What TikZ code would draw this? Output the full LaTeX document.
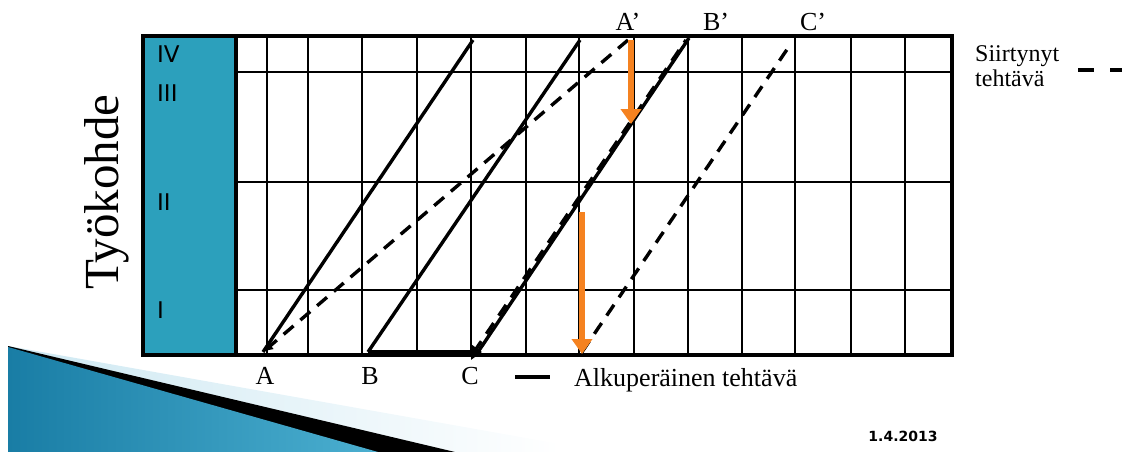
\documentclass[tikz,border=0pt]{standalone}
\usepackage{fontspec}
\setmainfont{Liberation Serif}
\newfontfamily\numfont{DejaVu Sans}
\usetikzlibrary{arrows.meta}

\definecolor{panelblue}{RGB}{44,160,188}
\definecolor{shiftorange}{RGB}{245,130,32}
\definecolor{swooshdark}{RGB}{25,125,165}
\definecolor{swooshlight}{RGB}{75,175,208}
\definecolor{swooshpale}{RGB}{205,232,242}

\tikzset{
  task/.style={line width=3.4pt},
  moved/.style={line width=3.4pt, dash pattern=on 13pt off 9pt},
  shiftarrow/.style={shiftorange, line width=6pt, -{Triangle[length=15pt,width=20pt]}},
  lbl/.style={font=\fontsize{26}{28}\selectfont, inner sep=0pt, anchor=base},
  zone/.style={font=\numfont\fontsize{23}{25}\selectfont, inner sep=0pt, anchor=base west},
}

\begin{document}
\begin{tikzpicture}[x=1pt,y=-1pt]
  \useasboundingbox (0,0) rectangle (1122,452);

  % slide decoration
  \shade[left color=swooshpale, right color=white] (8,346) -- (560,444) -- (560,452) -- (8,452) -- cycle;
  \fill[black] (8,346) -- (455,452) -- (8,452) -- cycle;
  \shade[left color=swooshdark, right color=swooshlight] (8,347) -- (378,452) -- (8,452) -- cycle;

  % frame and grid
  \fill[panelblue] (143,36) rectangle (236,355);
  \foreach \y in {72,182,290}
    \draw[line width=1.2pt] (236,\y) -- (952,\y);
  \foreach \x in {267,308,362,417,471,526,579,634,688,742,795,851,905}
    \draw[line width=1.2pt] (\x,36) -- (\x,355);
  \draw[line width=3.2pt] (236,36) -- (236,355);
  \draw[line width=3.2pt] (143,36) rectangle (952,355);

  % task points
  \coordinate (A) at (263,352);
  \coordinate (B) at (368,352);
  \coordinate (C) at (478,352);
  \coordinate (Aend) at (473,40);
  \coordinate (Bend) at (580,40);
  \coordinate (Cend) at (689,38);
  \coordinate (A2) at (628,40);
  \coordinate (B2) at (686,40);
  \coordinate (C1) at (474,352);
  \coordinate (D) at (582,352);
  \coordinate (C2) at (788,48);

  % original tasks
  \draw[task] (A) -- (Aend);
  \draw[task] (B) -- (Bend);
  \draw[task] (C) -- (Cend);
  \draw[line width=5pt, -{Triangle[length=11pt,width=15pt]}] (B) -- ([xshift=4pt]C);

  % moved tasks
  \draw[moved, -{Latex[length=10pt,width=10pt]}] (A2) -- (A);
  \draw[moved] (C1) -- (B2);
  \draw[moved] (D) -- (C2);

  % shifts
  \coordinate (s1) at (631,40);
  \coordinate (s1end) at (631,124);
  \coordinate (s2) at (582,212);
  \coordinate (s2end) at (582,354);
  \draw[shiftarrow] (s1) -- (s1end);
  \draw[shiftarrow] (s2) -- (s2end);

  % labels
  \node[lbl] (lA) at (265,384) {A};
  \node[lbl] (lB) at (370,384) {B};
  \node[lbl] (lC) at (470,384) {C};
  \node[lbl] (lA2) at (628,31) {A’};
  \node[lbl] (lB2) at (716,31) {B’};
  \node[lbl] (lC2) at (813,31) {C’};

  \node[zone] (z4) at (157,63) {IV};
  \node[zone] (z3) at (157,101) {III};
  \node[zone] (z2) at (157,210) {II};
  \node[zone] (z1) at (157,318) {I};

  \node[font=\fontsize{49}{51}\selectfont, rotate=90, anchor=base, inner sep=0pt] (axis) at (118,192) {Työkohde};

  % legend
  \coordinate (l1a) at (515,377);
  \coordinate (l1b) at (550,377);
  \draw[line width=4.5pt] (l1a) -- (l1b);
  \node[lbl, anchor=base west] (orig) at (574,386) {Alkuperäinen tehtävä};
  \coordinate (l2a) at (1078,70);
  \coordinate (l2b) at (1122,70);
  \draw[line width=4pt, dash pattern=on 16pt off 16pt] (l2a) -- (l2b);
  \node[font=\fontsize{24}{25}\selectfont, align=left, anchor=north west, inner sep=0pt] (moved) at (975,45) {Siirtynyt\\tehtävä};

  \node[font=\numfont\bfseries\fontsize{14}{16}\selectfont, anchor=base, inner sep=0pt] (date) at (903,441) {1.4.2013};
\end{tikzpicture}
\end{document}
